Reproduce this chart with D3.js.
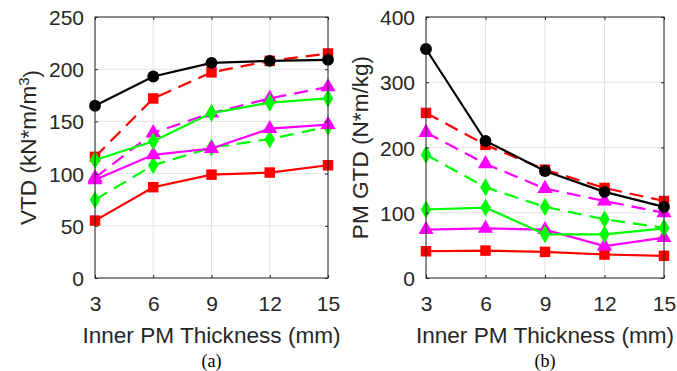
<!DOCTYPE html>
<html>
<head>
<meta charset="utf-8">
<script src="https://cdn.jsdelivr.net/npm/d3@7"></script>
<style>
  body { margin: 0; background: #fff; }
  svg { display: block; }
</style>
</head>
<body>
<svg id="chart" width="677" height="371"></svg>
<script>
// thickness values on the x axis
const thickness = [3, 6, 9, 12, 15];

// (a) VTD in kN*m/m^3
const vtdBlack = [165, 193, 206, 208, 209];
const vtdRedDash = [116, 172, 197, 208, 215];
const vtdMagDash = [96, 139, 158, 172, 183];
const vtdGreenDash = [75, 108, 125, 133, 145];
const vtdGreen = [113, 131, 158, 168, 172];
const vtdMag = [94, 118, 124, 143, 147];
const vtdRed = [55, 87, 99, 101, 108];

// (b) PM GTD in N*m/kg
const gtdBlack = [351, 210, 164, 132, 109];
const gtdRedDash = [253, 204, 166, 138, 118];
const gtdMagDash = [223, 175, 137, 118, 100];
const gtdGreenDash = [189, 139, 109, 90, 77];
const gtdGreen = [105, 108, 67, 67, 76];
const gtdMag = [74, 76, 74, 49, 62];
const gtdRed = [41, 42, 40, 36, 34];

const svg = d3.select("#chart");
const axisColor = "#262626";

function drawPanel(opt) {
    let x = d3.scaleLinear().domain([3, 15]).range([opt.left, opt.right]);
    let y = d3.scaleLinear().domain([0, opt.ymax]).range([opt.bottom, opt.top]);
    let g = svg.append("g");

    // grid
    g.selectAll(".gx").data(thickness).enter().append("line")
        .attr("x1", d => x(d)).attr("x2", d => x(d))
        .attr("y1", opt.top).attr("y2", opt.bottom)
        .attr("stroke", "#e3e3e3").attr("stroke-width", 1);
    g.selectAll(".gy").data(opt.yticks).enter().append("line")
        .attr("x1", opt.left).attr("x2", opt.right)
        .attr("y1", d => y(d)).attr("y2", d => y(d))
        .attr("stroke", "#e3e3e3").attr("stroke-width", 1);

    // series, dashed first, solid after, black on top
    let series = [
        {v: opt.data[1], c: "#ff0000", dash: true, m: "square"},
        {v: opt.data[2], c: "#ff00ff", dash: true, m: "triangle"},
        {v: opt.data[3], c: "#00ff00", dash: true, m: "diamond"},
        {v: opt.data[6], c: "#ff0000", dash: false, m: "square"},
        {v: opt.data[5], c: "#ff00ff", dash: false, m: "triangle"},
        {v: opt.data[4], c: "#00ff00", dash: false, m: "diamond"},
        {v: opt.data[0], c: "#000000", dash: false, m: "circle"}
    ];
    let line = d3.line().x((d, i) => x(thickness[i])).y(d => y(d));
    let sym = {
        square: d3.symbol().type(d3.symbolSquare).size(110),
        triangle: d3.symbol().type(d3.symbolTriangle).size(100),
        diamond: d3.symbol().type(d3.symbolDiamond).size(95),
        circle: d3.symbol().type(d3.symbolCircle).size(110)
    };
    series.forEach(function(s) {
        g.append("path")
            .attr("d", line(s.v))
            .attr("fill", "none")
            .attr("stroke", s.c)
            .attr("stroke-width", 2.2)
            .attr("stroke-dasharray", s.dash ? "14,8" : null);
        g.selectAll(null).data(s.v).enter().append("path")
            .attr("d", sym[s.m])
            .attr("transform", (d, i) => "translate(" + x(thickness[i]) + "," + y(d) + ")")
            .attr("fill", s.c);
    });

    // box
    g.append("rect")
        .attr("x", opt.left).attr("y", opt.top)
        .attr("width", opt.right - opt.left).attr("height", opt.bottom - opt.top)
        .attr("fill", "none").attr("stroke", axisColor).attr("stroke-width", 1);

    // axes with inward ticks
    let xAxis = d3.axisBottom(x).tickValues(thickness).tickSizeInner(-3).tickSizeOuter(0).tickPadding(18);
    let yAxis = d3.axisLeft(y).tickValues(opt.yticks).tickSizeInner(-3).tickSizeOuter(0).tickPadding(11);
    let gx = g.append("g").attr("transform", "translate(0," + opt.bottom + ")").call(xAxis);
    let gy = g.append("g").attr("transform", "translate(" + opt.left + ",0)").call(yAxis);
    g.append("g").attr("transform", "translate(0," + opt.top + ")")
        .call(d3.axisTop(x).tickValues(thickness).tickSizeInner(-3).tickSizeOuter(0).tickFormat(""));
    g.append("g").attr("transform", "translate(" + opt.right + ",0)")
        .call(d3.axisRight(y).tickValues(opt.yticks).tickSizeInner(-3).tickSizeOuter(0).tickFormat(""));
    g.selectAll(".domain").remove();
    g.selectAll(".tick line").attr("stroke", axisColor);
    [gx, gy].forEach(a => a.selectAll("text")
        .attr("fill", axisColor)
        .style("font-family", "'Liberation Sans', Arial, sans-serif")
        .style("font-size", "21px"));
    gy.selectAll("text").attr("dy", "0.36em");

    // x label
    g.append("text")
        .attr("x", (opt.left + opt.right) / 2)
        .attr("y", 343)
        .attr("text-anchor", "middle")
        .attr("fill", axisColor)
        .style("font-family", "'Liberation Sans', Arial, sans-serif")
        .style("font-size", "22.6px")
        .text("Inner PM Thickness (mm)");

    // y label
    let yl = g.append("text")
        .attr("transform", "translate(" + opt.ylabelX + "," + ((opt.top + opt.bottom) / 2) + ") rotate(-90)")
        .attr("text-anchor", "middle")
        .attr("fill", axisColor)
        .style("font-family", "'Liberation Sans', Arial, sans-serif")
        .style("font-size", "22.6px");
    opt.ylabel(yl);

    // panel caption
    g.append("text")
        .attr("x", (opt.left + opt.right) / 2)
        .attr("y", 367)
        .attr("text-anchor", "middle")
        .attr("fill", "#000")
        .style("font-family", "'Liberation Serif', 'Times New Roman', serif")
        .style("font-size", "18px")
        .text(opt.caption);
}

drawPanel({
    left: 95, right: 328, top: 17, bottom: 278,
    ymax: 250, yticks: [0, 50, 100, 150, 200, 250],
    data: [vtdBlack, vtdRedDash, vtdMagDash, vtdGreenDash, vtdGreen, vtdMag, vtdRed],
    ylabelX: 36,
    ylabel: function(t) {
        t.append("tspan").text("VTD (kN*m/m");
        t.append("tspan").attr("dy", "-0.45em").style("font-size", "15px").text("3");
        t.append("tspan").attr("dy", "0.45em").text(")");
    },
    caption: "(a)"
});

drawPanel({
    left: 426, right: 664, top: 17, bottom: 278,
    ymax: 400, yticks: [0, 100, 200, 300, 400],
    data: [gtdBlack, gtdRedDash, gtdMagDash, gtdGreenDash, gtdGreen, gtdMag, gtdRed],
    ylabelX: 368,
    ylabel: function(t) { t.text("PM GTD (N*m/kg)"); },
    caption: "(b)"
});
</script>
</body>
</html>
